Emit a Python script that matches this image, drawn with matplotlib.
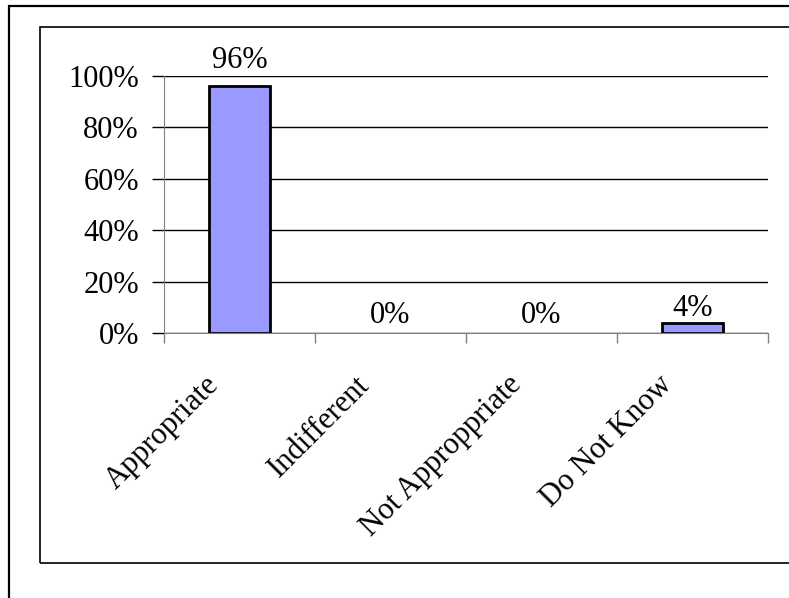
import matplotlib.pyplot as plt
from matplotlib.patches import Rectangle
from matplotlib.ticker import PercentFormatter
from matplotlib.transforms import ScaledTranslation

# -----------------------------
# Data
# -----------------------------
categories = ["Appropriate", "Indifferent", "Not Approppriate", "Do Not Know"]
shares = [0.96, 0.0, 0.0, 0.04]
value_labels = ["96%", "0%", "0%", "4%"]
yticks = [0, 0.2, 0.4, 0.6, 0.8, 1.0]

plt.rcParams["font.family"] = ["Liberation Serif", "DejaVu Serif"]

# -----------------------------
# Figure / frames
# -----------------------------
W, H = 789, 598
fig = plt.figure(figsize=(W / 100, H / 100), dpi=100)

# outer frame and chart-area frame (both run off the right/bottom edge)
fig.patches.append(Rectangle((9 / W, -0.1), 1.1, 1 - 6 / H + 0.1, transform=fig.transFigure,
                             fill=False, edgecolor="black", linewidth=1.6))
fig.patches.append(Rectangle((40 / W, 1 - 563 / H), 1.1, (563 - 27) / H, transform=fig.transFigure,
                             fill=False, edgecolor="black", linewidth=1.2))

ax = fig.add_axes([164 / W, 1 - 333 / H, (768 - 164) / W, (333 - 76) / H])

x = range(len(categories))
# zero-height bars have no visible outline
edge_widths = [2 if v > 0 else 0 for v in shares]
ax.bar(x, shares, width=0.40, color="#9999FF", edgecolor="black",
       linewidth=edge_widths, zorder=3)

# data labels
label_pad = [8, 2, 2, 0]
for i, (v, lab) in enumerate(zip(shares, value_labels)):
    ax.annotate(lab, (i, v), xytext=(0, label_pad[i]), textcoords="offset points",
                ha="center", va="bottom", fontsize=22)

ax.set_xlim(-0.5, len(categories) - 0.5)
ax.set_ylim(0, 1)
ax.set_yticks(yticks)
ax.yaxis.set_major_formatter(PercentFormatter(1.0, decimals=0))
ax.grid(axis="y", color="black", linewidth=1, zorder=0)

# category boundaries get the tick marks, names are written separately
ax.set_xticks([i - 0.5 for i in range(len(categories) + 1)])
ax.set_xticklabels([])
cat_offset = ScaledTranslation(-0.35, -0.375, fig.dpi_scale_trans)
for i, name in enumerate(categories):
    ax.text(i, 0, name, transform=ax.get_xaxis_transform() + cat_offset,
            rotation=45, ha="right", va="top", rotation_mode="anchor", fontsize=22)

ax.tick_params(axis="x", length=7, color="#808080", width=1)
ax.tick_params(axis="y", length=9, color="black", width=1, labelsize=22, pad=9)

for side in ["top", "right"]:
    ax.spines[side].set_visible(False)
ax.spines["left"].set_color("#808080")
ax.spines["bottom"].set_color("#808080")
ax.spines["bottom"].set_zorder(4)

plt.savefig("out.png", dpi=100)
